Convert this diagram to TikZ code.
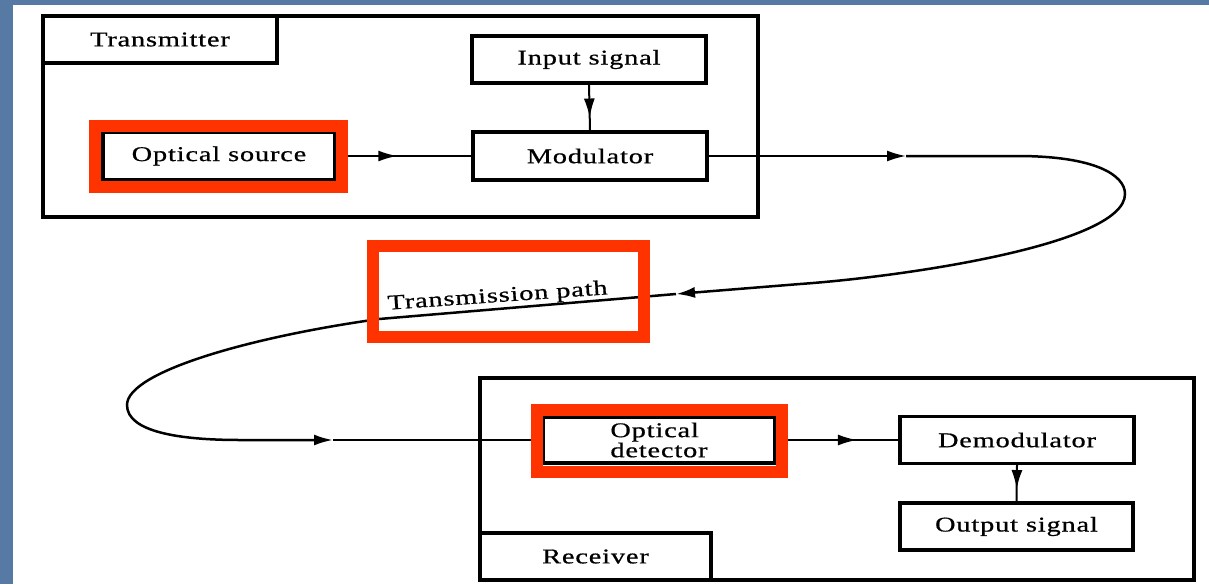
\documentclass[tikz,border=0pt]{standalone}
\usepackage{fontspec}
\setmainfont{Liberation Serif}[FakeStretch=1.35, LetterSpace=4, FakeBold=0.7]
\usetikzlibrary{arrows.meta,decorations.markings}
\definecolor{hl}{RGB}{255,51,0}
\definecolor{slide}{RGB}{86,122,164}
\begin{document}
\begin{tikzpicture}[x=1pt,y=-1pt,
  lbl/.style={font=\fontsize{21}{18}\selectfont, align=center, inner sep=0pt},
  blk/.style={draw, line width=3.4pt, lbl},
  frame/.style={draw, line width=3.4pt, inner sep=0pt},
  hlbox/.style={draw=hl, line width=12pt},
  conn/.style={line width=2pt},
  path/.style={line width=2.5pt},
  tip/.style={-{Latex[length=19pt,width=11pt]}},
  midarrow/.style={postaction={decorate}, decoration={markings, mark=at position #1 with {\arrow{Latex[length=19pt,width=11pt]}}}},
]
\fill[slide] (0,0) rectangle (1209,584);
\fill[white] (13,5) rectangle (1209,584);
\useasboundingbox (0,0) rectangle (1209,584);

% transmitter
\node[frame, minimum width=715pt, minimum height=201pt] (tx) at (400.5,116.5) {};
\node[blk, minimum width=234pt, minimum height=47pt] (txlab) at (160,39.5) {Transmitter};
\node[blk, minimum width=234pt, minimum height=47pt] (in) at (589,59.5) {Input signal};
\node[blk, minimum width=234pt, minimum height=48pt] (mod) at (590,156) {Modulator};
\node[blk, minimum width=232pt, minimum height=47pt] (os) at (219,156) {Optical source};

% receiver
\node[frame, minimum width=714pt, minimum height=202pt] (rx) at (837,479) {};
\node[blk, minimum width=231pt, minimum height=47pt] (rxlab) at (595.5,556.5) {Receiver};
\node[blk, align=left, minimum width=232pt, minimum height=46pt] (det) at (659,440) {Optical\\detector};
\node[blk, minimum width=234pt, minimum height=47pt] (demod) at (1017,440) {Demodulator};
\node[blk, minimum width=233pt, minimum height=47pt] (out) at (1016.5,526.5) {Output signal};

% connectors
\draw[conn, midarrow=0.45] (os.east) -- (mod.west);
\draw[conn, midarrow=0.72] (in.south) -- (mod.north);
\draw[conn, midarrow=0.66] (det.east) -- (demod.west);
\draw[conn, midarrow=0.66] (demod.south) -- (out.north);

\coordinate (a1) at (906,156);
\coordinate (a2) at (676,294);
\coordinate (a3) at (333,440);
\draw[conn, tip] (mod.east) -- (a1);
\draw[path, tip] (a1) -- (1017,156) .. controls (1095,156) and (1125,175) .. (1125,194)
   .. controls (1125,245) and (900,277) .. (800,284) -- (a2);
\draw[path, tip] (a2) -- (379,319) .. controls (250,337) and (127,372) .. (127,405)
   .. controls (127,432) and (180,440) .. (240,440) -- (a3);
\draw[conn] (a3) -- (det.west);

\node[lbl, anchor=base, rotate=4] (tp) at (498,302) {Transmission path};

% highlight frames
\draw[hlbox] (95,126) rectangle (342,187);
\draw[hlbox] (372.5,246) rectangle (643.5,337);
\draw[hlbox] (537,410) rectangle (782,472);
\end{tikzpicture}
\end{document}
